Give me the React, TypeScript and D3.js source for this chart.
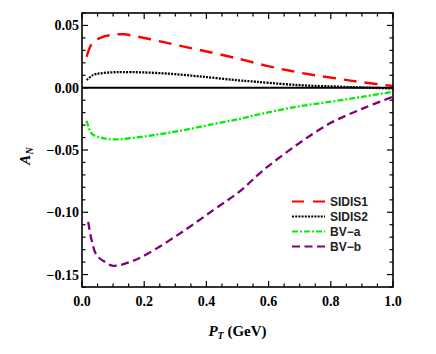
import React from "react";
import * as d3 from "d3";

const sidis1X = [0.015, 0.033, 0.063, 0.1, 0.133, 0.22, 0.304, 0.39, 0.476, 0.519, 0.594, 0.669, 0.744, 0.83, 0.904, 1.0];
const sidis1Y = [0.0249, 0.0357, 0.0405, 0.0425, 0.0429, 0.0389, 0.0343, 0.0297, 0.0249, 0.0223, 0.0176, 0.0136, 0.0102, 0.0070, 0.0043, 0.0014];

const sidis2X = [0.015, 0.036, 0.06, 0.1, 0.133, 0.26, 0.39, 0.508, 0.53, 0.69, 0.83, 0.9, 1.0];
const sidis2Y = [0.0062, 0.0102, 0.0116, 0.0124, 0.0126, 0.0116, 0.0088, 0.0058, 0.0054, 0.0022, 0.0008, 0.0002, -0.0006];

const bvaX = [0.015, 0.031, 0.058, 0.1, 0.208, 0.315, 0.422, 0.508, 0.583, 0.69, 0.797, 0.904, 1.0];
const bvaY = [-0.0265, -0.0367, -0.0399, -0.0415, -0.0388, -0.0346, -0.0292, -0.0250, -0.0206, -0.0153, -0.0113, -0.0072, -0.0032];

const bvbX = [0.02, 0.031, 0.047, 0.074, 0.1, 0.154, 0.208, 0.315, 0.422, 0.508, 0.583, 0.69, 0.797, 0.904, 1.0];
const bvbY = [-0.1077, -0.1224, -0.1345, -0.1399, -0.143, -0.1399, -0.1337, -0.117, -0.0983, -0.0830, -0.0662, -0.046, -0.0286, -0.0166, -0.0072];

const xTicks = [0, 0.2, 0.4, 0.6, 0.8, 1.0];
const yTicks = [0.05, 0, -0.05, -0.1, -0.15];
const seriesNames = ["SIDIS1", "SIDIS2", "BV\u2212a", "BV\u2212b"];
const seriesColors = ["#ff0000", "#000000", "#00ee00", "#800080"];

const W = 436, H = 354;
const left = 82, right = 393, top = 13, bottom = 287;

export default function App() {
  const x = d3.scaleLinear().domain([0, 1]).range([left, right]);
  const y = d3.scaleLinear().domain([-0.16, 0.06]).range([bottom, top]);
  const line = d3.line<[number, number]>().x(d => x(d[0])).y(d => y(d[1])).curve(d3.curveCatmullRom.alpha(0.5));
  const series = [
    { xs: sidis1X, ys: sidis1Y, dash: "13,8", w: 2.4 },
    { xs: sidis2X, ys: sidis2Y, dash: "2,1.2", w: 2.3 },
    { xs: bvaX, ys: bvaY, dash: "6,2,2,2", w: 2.3 },
    { xs: bvbX, ys: bvbY, dash: "8,4.5", w: 2.3 },
  ];
  const minorX = d3.range(0, 1.0001, 0.05);
  const minorY = d3.range(-0.16, 0.0601, 0.01).map(v => Math.round(v * 1000) / 1000);
  const serif = "'Liberation Serif', 'Times New Roman', serif";
  const sans = "'Liberation Sans', Arial, sans-serif";
  return (
    <svg width={W} height={H} style={{ position: "absolute", left: 0, top: 0, background: "#fff" }}>
      <defs>
        <clipPath id="plot">
          <rect x={left} y={top} width={right - left} height={bottom - top} />
        </clipPath>
      </defs>
      <line x1={left} x2={right} y1={y(0)} y2={y(0)} stroke="#000" strokeWidth={2} />
      <g clipPath="url(#plot)">
        {series.map((s, i) => (
          <path key={i} d={line(s.xs.map((v, j) => [v, s.ys[j]]) as [number, number][]) || ""}
            fill="none" stroke={seriesColors[i]} strokeWidth={s.w} strokeDasharray={s.dash} />
        ))}
      </g>
      {minorX.map((v, i) => {
        const major = Math.abs(v * 5 - Math.round(v * 5)) < 1e-6;
        const len = major ? 6 : 3.5;
        return (
          <g key={"xt" + i}>
            <line x1={x(v)} x2={x(v)} y1={bottom} y2={bottom - len} stroke="#000" strokeWidth={1.2} />
            <line x1={x(v)} x2={x(v)} y1={top} y2={top + len} stroke="#000" strokeWidth={1.2} />
          </g>
        );
      })}
      {minorY.map((v, i) => {
        const major = Math.abs(v * 20 - Math.round(v * 20)) < 1e-6;
        const len = major ? 6 : 3.5;
        return (
          <g key={"yt" + i}>
            <line x1={left} x2={left + len} y1={y(v)} y2={y(v)} stroke="#000" strokeWidth={1.2} />
            <line x1={right} x2={right - len} y1={y(v)} y2={y(v)} stroke="#000" strokeWidth={1.2} />
          </g>
        );
      })}
      <rect x={left} y={top} width={right - left} height={bottom - top} fill="none" stroke="#000" strokeWidth={1.6} />
      {xTicks.map((v, i) => (
        <text key={"xl" + i} x={x(v)} y={bottom + 19} textAnchor="middle" fontFamily={serif} fontWeight="bold" fontSize={14}>
          {v.toFixed(1)}
        </text>
      ))}
      {yTicks.map((v, i) => (
        <text key={"yl" + i} x={left - 3} y={y(v) + 5} textAnchor="end" fontFamily={serif} fontWeight="bold" fontSize={14}>
          {(v < 0 ? "\u2212" : "") + Math.abs(v).toFixed(2)}
        </text>
      ))}
      <text transform={`translate(30,${(top + bottom) / 2 + 6}) rotate(-90)`} textAnchor="middle" fontFamily={serif} fontSize={15} fontStyle="italic" fontWeight="bold">
        A<tspan fontSize={10} dy={3}>N</tspan>
      </text>
      <text x={(left + right) / 2} y={336} textAnchor="middle" fontFamily={serif} fontWeight="bold" fontSize={15}>
        <tspan fontStyle="italic">P</tspan><tspan fontStyle="italic" fontSize={10} dy={3}>T</tspan><tspan dy={-3}> (GeV)</tspan>
      </text>
      {seriesNames.map((n, i) => {
        const ly = 201.5 + i * 15;
        return (
          <g key={"lg" + i}>
            <line x1={292} x2={325} y1={ly} y2={ly} stroke={seriesColors[i]} strokeWidth={2.2}
              strokeDasharray={i === 0 ? "12,9" : series[i].dash} />
            <text x={330} y={ly + 4.5} fontFamily={sans} fontSize={12} fontWeight="bold" fill="#222">{n}</text>
          </g>
        );
      })}
    </svg>
  );
}
